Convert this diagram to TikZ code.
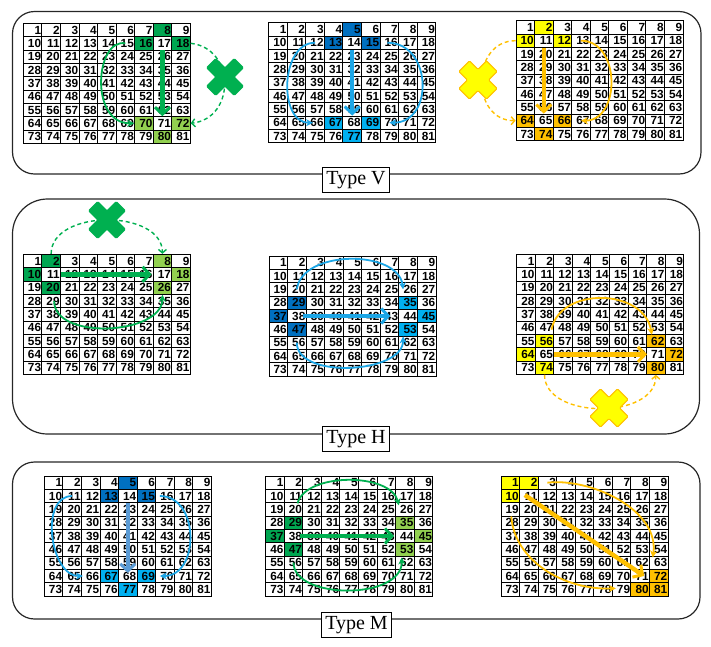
\documentclass[tikz,border=0pt]{standalone}
\usepackage{fontspec}
\setmainfont{Liberation Serif}
\newfontfamily\cellfont{Liberation Sans}
\usetikzlibrary{arrows.meta,calc}

\definecolor{dkg}{HTML}{00A651}
\definecolor{ltg}{HTML}{92D050}
\definecolor{dkb}{HTML}{0070C0}
\definecolor{ltb}{HTML}{00B0F0}
\definecolor{yel}{HTML}{FFFF00}
\definecolor{org}{HTML}{FFC000}
\definecolor{agreen}{HTML}{00B050}
\definecolor{ablue}{HTML}{1CA6E6}
\definecolor{mblue}{HTML}{5B9BD5}
\definecolor{aorg}{HTML}{FFC000}

\newcommand\sethl[3]{\expandafter\def\csname hl#1-#2\endcsname{#3}}
\newcommand\mygrid[3]{%
 \foreach \ri in {0,...,8}{\foreach \ci in {0,...,8}{%
   \pgfmathtruncatemacro\nn{9*\ri+\ci+1}%
   \edef\fillc{\ifcsname hl#1-\nn\endcsname\csname hl#1-\nn\endcsname\else white\fi}%
   \node[cellbox, fill=\fillc] (#1-\nn) at ({#2+(\ci+0.5)*18.55},{#3+(\ri+0.5)*13.333}) {\nn};
 }}}
\newcommand\xmark[5]{%
 \begin{scope}[shift={(#1,#2)},rotate=45]
 \filldraw[fill=#3,draw=#4,line width=1pt,rounded corners=1pt]
 (19.5,#5)--(#5,#5)--(#5,19.5)--(-#5,19.5)--(-#5,#5)--(-19.5,#5)--(-19.5,-#5)
 --(-#5,-#5)--(-#5,-19.5)--(#5,-19.5)--(#5,-#5)--(19.5,-#5)--cycle;
 \end{scope}}

% highlights
\sethl{ga}{8}{dkg}\sethl{ga}{16}{dkg}\sethl{ga}{18}{dkg}
\sethl{ga}{70}{ltg}\sethl{ga}{72}{ltg}\sethl{ga}{80}{ltg}
\sethl{gb}{5}{dkb}\sethl{gb}{13}{dkb}\sethl{gb}{15}{dkb}
\sethl{gb}{67}{ltb}\sethl{gb}{69}{ltb}\sethl{gb}{77}{ltb}
\sethl{gc}{2}{yel}\sethl{gc}{10}{yel}\sethl{gc}{12}{yel}
\sethl{gc}{64}{org}\sethl{gc}{66}{org}\sethl{gc}{74}{org}
\sethl{gd}{2}{dkg}\sethl{gd}{10}{dkg}\sethl{gd}{20}{dkg}
\sethl{gd}{8}{ltg}\sethl{gd}{18}{ltg}\sethl{gd}{26}{ltg}
\sethl{ge}{29}{dkb}\sethl{ge}{37}{dkb}\sethl{ge}{47}{dkb}
\sethl{ge}{35}{ltb}\sethl{ge}{45}{ltb}\sethl{ge}{53}{ltb}
\sethl{gf}{56}{yel}\sethl{gf}{64}{yel}\sethl{gf}{74}{yel}
\sethl{gf}{62}{org}\sethl{gf}{72}{org}\sethl{gf}{80}{org}
\sethl{gg}{5}{dkb}\sethl{gg}{13}{dkb}\sethl{gg}{15}{dkb}
\sethl{gg}{67}{ltb}\sethl{gg}{69}{ltb}\sethl{gg}{77}{ltb}
\sethl{gh}{29}{dkg}\sethl{gh}{37}{dkg}\sethl{gh}{47}{dkg}
\sethl{gh}{35}{ltg}\sethl{gh}{45}{ltg}\sethl{gh}{53}{ltg}
\sethl{gi}{1}{yel}\sethl{gi}{2}{yel}\sethl{gi}{10}{yel}
\sethl{gi}{72}{org}\sethl{gi}{80}{org}\sethl{gi}{81}{org}

\begin{document}
\begin{tikzpicture}[x=1pt,y=-1pt,
  cellbox/.style={draw=black, line width=0.9pt, minimum width=18.55pt, minimum height=13.333pt,
    inner sep=0pt, text width=17pt, align=right, text height=8.4pt, text depth=0pt,
    font=\cellfont\bfseries\fontsize{11.8}{11.8}\selectfont},
  panel/.style={draw=black!85, line width=1.2pt},
  typelbl/.style={draw=black, fill=white, line width=0.8pt, inner xsep=4pt, inner ysep=0pt,
    minimum height=25pt, font=\fontsize{20}{20}\selectfont},
  thkarr/.style={line width=4.4pt, -{Straight Barb[length=7pt,width=15pt,line width=3pt]}},
  thinarr/.style={line width=1.8pt, -{Stealth[length=7pt,width=7pt]}},
  dasharr/.style={line width=1.4pt, dash pattern=on 4pt off 3pt, -{Straight Barb[length=3.5pt,width=8pt]}}]
\useasboundingbox (0,0) rectangle (711,646);

% panels
\draw[panel, rounded corners=22pt] (12.5,11.5) rectangle (701,174);
\draw[panel, rounded corners=35pt] (12.5,199) rectangle (699.5,434);
\draw[panel, rounded corners=22pt] (12.5,462) rectangle (700,619);

% grids
\mygrid{ga}{23.3}{23.3}
\mygrid{gb}{268.7}{22.7}
\mygrid{gc}{516}{20.7}
\mygrid{gd}{23.3}{254.3}
\mygrid{ge}{269}{256}
\mygrid{gf}{516.7}{254.3}
\mygrid{gg}{44.3}{476}
\mygrid{gh}{265.7}{476}
\mygrid{gi}{501}{476}

% Type V
\draw[thkarr, agreen] (ga-17.south) -- (ga-71.north);
\draw[thinarr, agreen] (ga-15.center) .. controls +(-30,-5) and +(-45,0) .. (ga-70.west);
\draw[dasharr, agreen] (ga-18.east) .. controls +(45,5) and +(45,-5) .. (ga-72.east);
\xmark{225}{77}{agreen}{agreen}{6.5}

\draw[thkarr, ablue] (gb-14.south) -- (gb-68.north);
\draw[thinarr, ablue] (gb-12.center) .. controls +(-35,0) and +(-35,0) .. ($(gb-66.center)+(-2,0)$);
\draw[thinarr, ablue] ($(gb-16.center)+(-2,0)$) .. controls +(45,0) and +(45,0) .. (gb-70.center);

\draw[thkarr, aorg] (gc-11.south) -- (gc-65.north);
\draw[thinarr, aorg] (gc-13.center) .. controls +(40,0) and +(40,0) .. (gc-67.center);
\draw[dasharr, aorg] (gc-10.west) .. controls +(-45,0) and +(-45,0) .. (gc-64.west);
\xmark{478}{80}{yel}{aorg}{7.5}

% Type H
\draw[thkarr, agreen] (gd-11.east) -- ($(gd-16.east)+(-2,0)$);
\draw[thinarr, agreen] ($(gd-29.center)+(3,0)$) .. controls +(0,40) and +(0,40) .. (gd-26.south);
\draw[dasharr, agreen] (gd-2.north) .. controls +(0,-45) and +(0,-45) .. (gd-8.north);
\xmark{107}{220}{agreen}{agreen}{6.5}

\draw[thkarr, ablue] ($(ge-38.east)+(-4,0)$) -- ($(ge-43.east)+(-9,0)$);
\draw[thinarr, ablue] (ge-20.center) .. controls +(5,-40) and +(-5,-40) .. ($(ge-26.center)+(-5,0)$);
\draw[thinarr, ablue] (ge-56.center) .. controls +(0,37) and +(0,37) .. ($(ge-53.south)+(-5,0)$);

\draw[thkarr, aorg] (gf-65.east) -- (gf-70.east);
\draw[thinarr, aorg] ($(gf-47.center)+(7,2)$) .. controls +(8,-43) and +(-8,-47) .. ($(gf-53.south)+(-4,0)$);
\draw[dasharr, aorg] (gf-74.south) .. controls +(0,45) and +(0,45) .. (gf-80.south);
\xmark{609}{408}{yel}{aorg}{7.5}

% Type M
\draw[thkarr, mblue] (gg-14.south) -- ($(gg-68.north)+(0,4)$);
\draw[thinarr, ablue] (gg-11.center) .. controls +(-33,0) and +(-33,0) .. ($(gg-66.west)+(2,0)$);
\draw[thinarr, ablue] ($(gg-16.center)+(-5,0)$) .. controls +(40,0) and +(40,0) .. ($(gg-70.center)+(-5,0)$);

\draw[thkarr, agreen] ($(gh-38.center)+(6,0)$) -- ($(gh-43.east)+(-2,0)$);
\draw[thinarr, agreen] ($(gh-20.center)+(4,-6)$) .. controls +(8,-31) and +(-8,-33) .. ($(gh-26.center)+(-6,-4)$);
\draw[thinarr, agreen] (gh-56.center) .. controls +(0,37) and +(0,43) .. ($(gh-53.south)+(-3,1)$);

\draw[thkarr, aorg] ($(gi-11.center)+(-4,-1)$) -- ($(gi-71.center)+(4,0)$);
\draw[thinarr, aorg] (gi-3.center) .. controls +(43,-5) and +(7,-48) .. ($(gi-63.north)+(-6,2)$);
\draw[thinarr, aorg] ($(gi-19.south)+(1,0)$) .. controls +(3,44) and +(-52,2) .. ($(gi-79.west)+(4,-1)$);

% labels
\node[typelbl] (tv) at (356,180) {Type V};
\node[typelbl] (th) at (356,439) {Type H};
\node[typelbl] (tm) at (356.5,625) {Type M};
\end{tikzpicture}
\end{document}
